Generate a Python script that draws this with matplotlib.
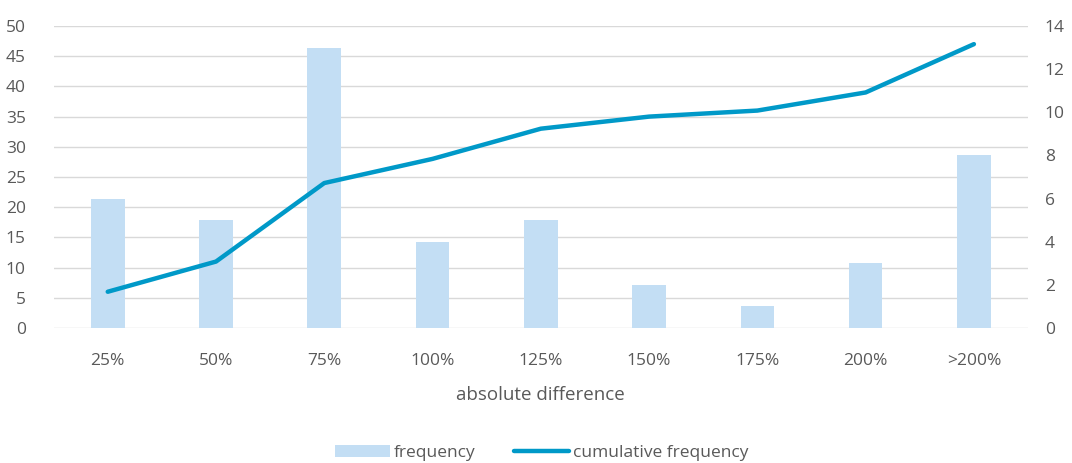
import numpy as np
import matplotlib
matplotlib.use("Agg")
import matplotlib.pyplot as plt

categories = ["25%", "50%", "75%", "100%", "125%", "150%", "175%", "200%", ">200%"]
frequency = [6, 5, 13, 4, 5, 2, 1, 3, 8]
cumulative = [6, 11, 24, 28, 33, 35, 36, 39, 47]

left_ticks = np.arange(0, 51, 5)
right_ticks = np.arange(0, 15, 2)

plt.rcParams["font.family"] = ["Open Sans", "DejaVu Sans"]
tick_color = "#595959"

fig = plt.figure(figsize=(10.72, 4.63), dpi=100)
# frequency bars live on the bottom axes (right-hand scale)
ax = fig.add_axes([0.050, 0.2916, 0.909, 0.6522])
ax_cum = ax.twinx()
ax_cum.set_zorder(ax.get_zorder() + 1)
ax_cum.patch.set_visible(False)

x = np.arange(len(categories))
ax.bar(x, frequency, width=0.31, color="#c3def4", zorder=2, label="frequency")
ax.set_ylim(0, 14)
ax.yaxis.tick_right()
ax.set_yticks(right_ticks)

# gridlines follow the left (cumulative) scale, drawn under the bars
for t in left_ticks:
    ax.axhline(t * 14 / 50, color="#d9d9d9", lw=1.0, zorder=1)

ax_cum.plot(x, cumulative, color="#0099c8", lw=3.2, solid_capstyle="round",
            label="cumulative frequency", zorder=3)
ax_cum.set_ylim(0, 50)
ax_cum.yaxis.tick_left()
ax_cum.set_yticks(left_ticks)

ax.set_xlim(-0.5, len(categories) - 0.5)
ax.set_xticks(x)
ax.set_xticklabels(categories)
ax.set_xlabel("absolute difference", fontsize=13.5, color=tick_color, labelpad=12)

for a in (ax, ax_cum):
    for s in a.spines.values():
        s.set_visible(False)
    a.tick_params(length=0, labelsize=12.5, colors=tick_color)
ax.tick_params(axis="x", pad=18)
ax.tick_params(axis="y", pad=12)
ax_cum.tick_params(axis="y", pad=20)

h1, l1 = ax.get_legend_handles_labels()
h2, l2 = ax_cum.get_legend_handles_labels()
fig.legend(h1 + h2, l1 + l2, loc="center", bbox_to_anchor=(0.505, 0.022), ncol=2,
           frameon=False, fontsize=12.5, labelcolor=tick_color, handlelength=3.2,
           handletextpad=0.2, columnspacing=2.2)

fig.savefig("out.png", dpi=100)
